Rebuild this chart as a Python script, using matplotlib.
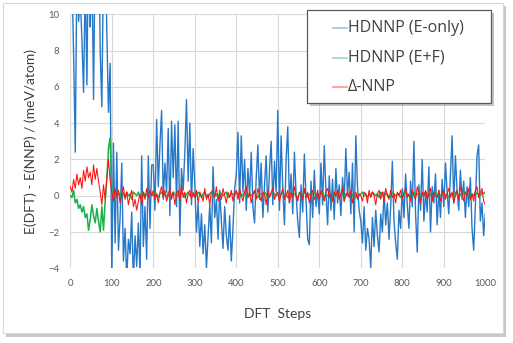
import numpy as np
import matplotlib
matplotlib.use("Agg")
import matplotlib.pyplot as plt
from matplotlib.patches import Rectangle
from matplotlib.lines import Line2D

plt.rcParams["font.family"] = ["Lato", "DejaVu Sans"]

# DFT step index (one sample every 4 steps)
steps = np.arange(0, 1001, 4)

# HDNNP trained on energies only
e_only = [
    14, 12, 7.8, 2.4, 13, 9.6, 11, 8.6, 5.7, 12, 6.1, 15, 9.3, 13, 5.3, 14, 11, 16, 8.0, 4.9, 13, 15, 9.0, 4.6, 7.3,
    -4.5, 2.9, -2.6, 2.4, -3.0, -1.2, 1.8, -3.6, -1.8, -4.6, -2.4, -3.2, -0.9, -4.8, -2.2, -3.9, -1.5, -4.4, 2.2, -2.8, -0.6, -3.5, 2.2, -1.8, 1.7,
    1.7, -0.8, 4.2, 0.5, 2.8, 4.7, -0.2, 1.8, 0.2, 3.7, -1.1, 4.1, 1.0, 3.9, -0.6, 4.1, -2.2, 1.5, 0.3, 2.4, 5.3, 0.8, 4.0, -0.5, 2.6,
    0.6, -2.0, -0.4, -2.8, -1.0, -3.2, -1.6, -4.0, -2.2, -0.5, -2.6, 1.6, -1.2, -0.2, -2.4, 0.3, -1.4, -2.9, -0.6, -2.2, -3.0, -1.1, -3.6, -1.8, 0.4,
    1.2, 3.5, -0.4, 3.3, 0.2, 2.0, -0.8, 1.5, 0.0, 2.4, -0.6, -1.5, 1.0, 2.8, -0.2, 1.8, -1.2, 0.6, 2.2, -0.9, 1.4, 3.0, -0.5, 1.9, 0.2,
    4.7, -0.8, 3.3, 0.4, -1.6, 2.0, 3.8, -0.4, 1.2, -1.0, 2.4, 0.1, -1.4, -2.3, 0.6, -0.9, 2.3, -0.2, -2.4, -2.7, 0.8, -1.2, 1.4, -0.6, 0.3,
    -1.0, 1.8, -0.5, 2.75, 0.2, -1.6, 1.1, -0.8, 0.9, -1.3, 1.5, -0.4, 0.6, -1.1, 1.0, -0.3, 2.6, 0.0, 1.3, -1.0, 1.8, -2.0, 3.3, 0.5, -0.8,
    -1.4, -2.6, -0.6, -3.0, -1.8, -2.4, -4.0, -1.2, -2.8, -0.8, -2.2, -3.1, -1.0, -2.0, 0.2, -1.6, -0.4, -2.4, -0.6, 1.9, -1.4, -2.6, -3.5, -0.8, -1.8,
    0.4, -1.2, 1.2, -0.5, -1.8, 0.8, -0.6, 3.0, -1.0, -3.1, 0.6, -0.8, 2.0, -1.4, 0.2, -0.9, 1.6, -2.0, 0.5, -0.4, 1.2, -1.6, 0.3, -1.2, 0.9,
    -0.6, 1.8, 0.2, -1.0, 1.2, 3.3, -0.4, 2.2, 0.3, -0.8, 1.4, -0.2, 0.8, -1.2, 0.5, -0.6, 1.0, -1.8, -3.0, -0.6, 2.2, 2.8, -1.4, -0.4, -2.2, -1.0,
]

# HDNNP trained on energies + forces
e_f = [
    0.0, -0.1, 0.3, -0.4, -0.2, -0.7, -0.5, -0.9, -0.6, -1.2, -1.0, -1.9, -1.3, -0.5, -1.1, -1.5, -0.7, -1.4, -2.0, -0.6, -1.9, -0.3, 0.9, 2.6, 3.2,
    0.3, 0.1, 0.2, -0.1, 0.2, 0.0, 0.3, 0.1, -0.1, 0.2, 0.0, 0.1, -0.2, 0.2, 0.1, 0.0, 0.2, -0.1, 0.1, 0.2, 0.0, 0.1, -0.1, 0.2, 0.1,
    0.0, 0.2, 0.1, -0.1, 0.1, 0.2, 0.0, 0.1, -0.1, 0.2, 0.1, 0.0, 0.2, 0.1, -0.1, 0.1, 0.0, 0.2, 0.1, -0.1, 0.1, 0.2, 0.0, 0.1, 0.0,
    0.1, 0.0, 0.2, 0.1, -0.1, 0.1, 0.2, 0.0, -0.1, 0.1, 0.2, 0.1, 0.0, 0.1, -0.1, 0.2, 0.1, 0.0, 0.1, 0.2, -0.1, 0.0, 0.1, 0.1, 0.0,
    0.2, 0.1, -0.1, 0.1, 0.0, 0.2, 0.1, -0.1, 0.1, 0.0, 0.1, 0.2, 0.0, -0.1, 0.1, 0.1, 0.0, 0.2, 0.1, -0.1, 0.0, 0.1, 0.2, 0.1, 0.0,
    0.1, -0.1, 0.1, 0.2, 0.0, 0.1, -0.1, 0.1, 0.0, 0.2, 0.1, 0.0, -0.1, 0.1, 0.1, 0.0, 0.2, 0.1, -0.1, 0.1, 0.0, 0.1, 0.2, 0.0, 0.1,
    0.0, 0.1, 0.2, -0.1, 0.1, 0.0, 0.1, 0.1, -0.1, 0.2, 0.0, 0.1, 0.1, 0.0, 0.2, -0.1, 0.1, 0.0, 0.1, 0.2, 0.0, 0.1, -0.1, 0.1, 0.0,
    0.1, 0.2, 0.0, 0.1, -0.1, 0.1, 0.0, 0.2, 0.1, 0.0, 0.1, -0.1, 0.2, 0.1, 0.0, 0.1, 0.1, -0.1, 0.0, 0.2, 0.1, 0.0, 0.1, 0.1, -0.1,
    0.1, 0.0, 0.2, 0.1, 0.0, -0.1, 0.1, 0.2, 0.0, 0.1, 0.1, -0.1, 0.1, 0.0, 0.2, 0.1, 0.0, 0.1, -0.1, 0.1, 0.2, 0.0, 0.1, 0.0, 0.1,
    0.2, 0.0, 0.1, -0.1, 0.1, 0.1, 0.0, 0.2, 0.1, -0.1, 0.1, 0.0, 0.1, 0.2, 0.0, 0.1, -0.1, 0.1, 0.0, 0.2, 0.1, 0.1, 0.0, 0.2, 0.1, 0.2,
]

# Delta-learning NNP
delta = [
    0.5, 0.2, 0.9, 0.4, 1.2, 0.6, 1.0, 0.4, 1.4, 0.8, 1.6, 1.0, 1.3, 0.6, 1.7, 0.9, 1.5, 0.8, 0.2, -0.5, 0.6, -0.2, 1.0, 2.0, 0.8,
    0.2, -0.3, 0.4, -0.1, 0.3, -0.4, 0.1, 0.5, -0.2, 0.2, -0.5, 0.0, 0.3, -0.6, -0.2, -0.8, -0.3, 0.1, -0.5, 0.2, -0.2, 0.4, -0.1, 0.3, 0.0,
    0.3, -0.2, 0.1, -0.4, 0.2, 0.5, -0.1, 0.3, -0.3, 0.0, 0.4, -0.2, 0.2, -0.5, 0.1, 0.3, -0.3, 0.6, -0.1, 0.2, -0.4, 0.1, 0.3, -0.2, 0.2,
    -0.1, 0.3, -0.4, 0.2, 0.0, -0.3, 0.4, -0.2, 0.1, -0.5, 0.2, 0.3, -0.1, 0.5, -0.3, 0.1, -0.2, 0.4, 0.0, -0.4, 0.2, -0.1, 0.3, -0.3, 0.1,
    0.3, -0.2, 0.4, 0.0, -0.3, 0.2, 0.5, -0.1, 0.2, -0.4, 0.1, 0.3, -0.2, 0.4, 0.0, -0.3, 0.2, 0.1, -0.5, 0.3, -0.1, 0.2, 0.4, -0.2, 0.1,
    0.2, -0.3, 0.1, 0.4, -0.2, 0.0, 0.3, -0.4, 0.2, -0.1, 0.5, 0.0, -0.3, 0.2, 0.1, -0.2, 0.4, -0.1, 0.2, -0.4, 0.1, 0.3, -0.2, 0.0, 0.2,
    -0.2, 0.3, 0.0, -0.3, 0.2, 0.4, -0.1, 0.1, -0.3, 0.2, 0.0, 0.3, -0.2, 0.1, 0.4, -0.3, 0.0, 0.2, -0.1, 0.3, -0.4, 0.1, 0.2, -0.2, 0.1,
    0.0, -0.3, 0.2, 0.1, -0.4, 0.3, -0.1, 0.2, 0.0, -0.5, 0.1, 0.3, -0.2, 0.2, -0.3, 0.4, 0.0, -0.2, 0.3, -0.1, 0.1, -0.4, 0.2, 0.0, 0.3,
    -0.2, 0.2, 0.4, -0.1, 0.1, -0.3, 0.3, 0.0, -0.2, 0.5, 0.1, -0.4, 0.2, 0.0, 0.3, -0.2, 0.1, 0.4, -0.3, 0.2, 0.0, -0.1, 0.3, -0.3, 0.1,
    0.3, -0.2, 0.1, 0.4, -0.1, 0.2, -0.4, 0.0, 0.3, -0.2, 0.5, 0.1, -0.3, 0.2, 0.0, 0.4, -0.2, 0.1, -0.3, 0.3, 0.5, -0.1, 0.2, 0.4, -0.3, -0.5,
]

labels = ["HDNNP (E-only)", "HDNNP (E+F)", "Δ-NNP"]
colors = ["#2878C8", "#1DB04A", "#FF1010"]
widths = [1.0, 1.1, 0.75]

W, H = 513, 343
fig = plt.figure(figsize=(W / 100, H / 100), dpi=100)


def fx(px):
    return px / W


def fy(py):
    return 1 - py / H


# outer chart frame with a soft shadow (kept behind the axes)
fig.patches.append(Rectangle((fx(6), fy(337)), 500 / W, 331 / H, transform=fig.transFigure,
                             facecolor="#A6A6A6", edgecolor="none", alpha=0.6, zorder=-2))
fig.patches.append(Rectangle((fx(3), fy(333)), 500 / W, 330 / H, transform=fig.transFigure,
                             facecolor="white", edgecolor="#D9D9D9", linewidth=0.8, zorder=-1))

ax = fig.add_axes([fx(70.3), fy(268.3), 415 / W, 254 / H])
ax.set_facecolor("none")

for y, lab, c, lw in zip([e_only, e_f, delta], labels, colors, widths):
    ax.plot(steps, y, color=c, linewidth=lw, label=lab)

ax.set_xlim(0, 1000)
ax.set_ylim(-4, 10)
ax.set_xticks(np.arange(0, 1001, 100))
ax.set_yticks(np.arange(-4, 11, 2))
ax.grid(True, color="#D9D9D9", linewidth=0.8)
ax.set_axisbelow(True)
for s in ax.spines.values():
    s.set_visible(False)
ax.tick_params(length=0, labelsize=6.8, colors="#595959")
ax.tick_params(axis="y", pad=8)
ax.tick_params(axis="x", pad=8)

ax.set_xlabel("DFT  Steps", fontsize=10, color="#404040", labelpad=14)
ax.set_ylabel("E(DFT) - E(NNP) / (meV/atom)", fontsize=10, color="#404040", labelpad=8)

# legend box drawn by hand so the padding matches the original
fig.patches.append(Rectangle((fx(310), fy(106)), 184 / W, 93 / H, transform=fig.transFigure,
                             facecolor="#8C8C8C", edgecolor="none", alpha=0.5, zorder=5))
fig.patches.append(Rectangle((fx(307), fy(103)), 184 / W, 93 / H, transform=fig.transFigure,
                             facecolor="white", edgecolor="#595959", linewidth=0.9, zorder=6))
for i, (lab, c) in enumerate(zip(labels, colors)):
    yc = fy(28 + 29.5 * i)
    fig.add_artist(Line2D([fx(333), fx(347)], [yc, yc], transform=fig.transFigure,
                          color=c, alpha=0.45, linewidth=1.2, zorder=7))
    fig.text(fx(348), yc, lab, fontsize=11.5, family=["Open Sans", "DejaVu Sans"],
             color="#404040", va="center", ha="left", zorder=7)

fig.savefig("out.png", dpi=100)
